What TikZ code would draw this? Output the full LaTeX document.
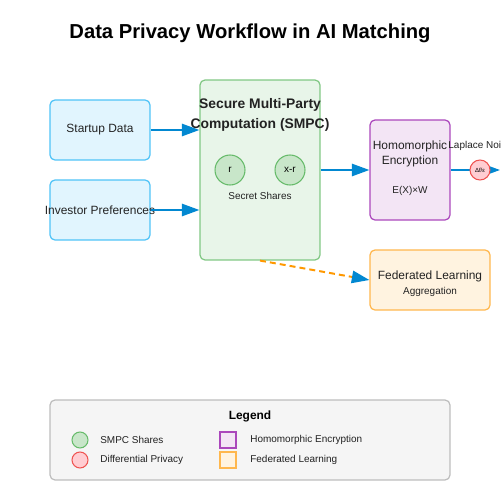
\documentclass[tikz,border=0pt]{standalone}
\usepackage{fontspec}
\setmainfont{Liberation Sans}
\usetikzlibrary{arrows.meta}

\definecolor{inblue}{HTML}{E1F5FE}
\definecolor{inbluedraw}{HTML}{4FC3F7}
\definecolor{smpcfill}{HTML}{E8F5E9}
\definecolor{smpcdraw}{HTML}{81C784}
\definecolor{sharefill}{HTML}{C8E6C9}
\definecolor{sharedraw}{HTML}{66BB6A}
\definecolor{hefill}{HTML}{F3E5F5}
\definecolor{hedraw}{HTML}{AB47BC}
\definecolor{dpfill}{HTML}{FFCDD2}
\definecolor{dpdraw}{HTML}{EF5350}
\definecolor{flfill}{HTML}{FFF3E0}
\definecolor{fldraw}{HTML}{FFB74D}
\definecolor{flowblue}{HTML}{0288D1}
\definecolor{florange}{HTML}{FF9800}
\definecolor{legfill}{HTML}{F5F5F5}
\definecolor{legdraw}{HTML}{BDBDBD}
\definecolor{ink}{HTML}{222222}

\newcommand{\titlesize}{\fontsize{11.5}{13}\selectfont\bfseries}
\newcommand{\headsize}{\fontsize{7.9}{9}\selectfont\bfseries}
\newcommand{\textsz}{\fontsize{6.8}{8}\selectfont}
\newcommand{\smallsz}{\fontsize{5.67}{7}\selectfont}

\tikzset{
  box/.style={draw, rounded corners=2.8pt, line width=0.7pt, inner sep=0pt},
  databox/.style={box, fill=inblue, draw=inbluedraw, minimum width=2cm, minimum height=1.2cm},
  share/.style={circle, draw=sharedraw, fill=sharefill, line width=0.6pt, inner sep=0pt},
  noise/.style={circle, draw=dpdraw, fill=dpfill, line width=0.6pt, inner sep=0pt},
  flow/.style={draw=flowblue, line width=1.13pt, -{Triangle[length=10pt, width=7pt]}},
  txt/.style={text=ink, inner sep=0pt, font=\textsz},
  small/.style={text=ink, inner sep=0pt, font=\smallsz}
}

\begin{document}
\begin{tikzpicture}[x=0.02cm, y=-0.02cm]
  \useasboundingbox (0,0) rectangle (500,500);
  \clip (0,0) rectangle (500,500);

  \node[text=black, font=\titlesize] (title) at (250,33) {Data Privacy Workflow in AI Matching};

  % inputs
  \node[databox, label={[txt]center:Startup Data}] (startup) at (100,130) {};
  \node[databox, label={[txt]center:Investor Preferences}] (investor) at (100,210) {};

  % SMPC
  \node[box, fill=smpcfill, draw=smpcdraw, minimum width=2.4cm, minimum height=3.6cm] (smpc) at (260,170) {};
  \node[text=ink, inner sep=0pt, font=\headsize] (smpc1) at (260,105) {Secure Multi-Party};
  \node[text=ink, inner sep=0pt, font=\headsize] (smpc2) at (260,125) {Computation (SMPC)};
  \node[share, minimum size=0.6cm, font=\smallsz] (r) at (230,170) {r};
  \node[share, minimum size=0.6cm, font=\smallsz] (xr) at (290,170) {x-r};
  \node[small] (shares) at (260,196) {Secret Shares};

  % homomorphic encryption
  \node[box, fill=hefill, draw=hedraw, minimum width=1.6cm, minimum height=2cm] (he) at (410,170) {};
  \node[txt] (he1) at (410,146) {Homomorphic};
  \node[txt] (he2) at (410,161) {Encryption};
  \node[small] (he3) at (410,191) {E(X)×W};

  % federated learning
  \node[box, fill=flfill, draw=fldraw, minimum width=2.4cm, minimum height=1.2cm] (fl) at (430,280) {};
  \node[txt] (fl1) at (430,276) {Federated Learning};
  \node[small] (fl2) at (430,292) {Aggregation};

  % connectors
  \draw[flow] (startup.east) -- (startup.east -| smpc.west);
  \draw[flow] (investor.east) -- (investor.east -| smpc.west);
  \draw[flow] (smpc.east) -- (he.west);
  \coordinate (out) at (500,170);
  \draw[flow] (he.east) -- (out);
  \draw[draw=florange, line width=1.13pt, dash pattern=on 3.4pt off 2.3pt,
    -{Triangle[length=10pt, width=7pt, color=flowblue]}] (smpc.south) -- (fl.west);

  % differential privacy
  \node[small] (laplace) at (480,146) {Laplace Noise};
  \node[noise, minimum size=0.4cm, font=\fontsize{3.4}{4}\selectfont] (dp) at (480,170) {Δf/ε};

  % legend
  \node[box, fill=legfill, draw=legdraw, minimum width=8cm, minimum height=1.6cm] (legend) at (250,440) {};
  \node[text=black, inner sep=0pt, font=\fontsize{6.8}{8}\selectfont\bfseries] (legtitle) at (250,416) {Legend};
  \node[share, minimum size=0.32cm] (lshare) at (80,440) {};
  \node[noise, minimum size=0.32cm] (lnoise) at (80,460) {};
  \node[small, anchor=west] (lsharet) at (100,440) {SMPC Shares};
  \node[small, anchor=west] (lnoiset) at (100,460) {Differential Privacy};
  \node[draw=hedraw, fill=hefill, line width=0.7pt, minimum size=0.32cm, inner sep=0pt] (lhe) at (228,440) {};
  \node[draw=fldraw, fill=flfill, line width=0.7pt, minimum size=0.32cm, inner sep=0pt] (lfl) at (228,460) {};
  \node[small, anchor=west] (lhet) at (250,440) {Homomorphic Encryption};
  \node[small, anchor=west] (lflt) at (250,460) {Federated Learning};
\end{tikzpicture}
\end{document}
